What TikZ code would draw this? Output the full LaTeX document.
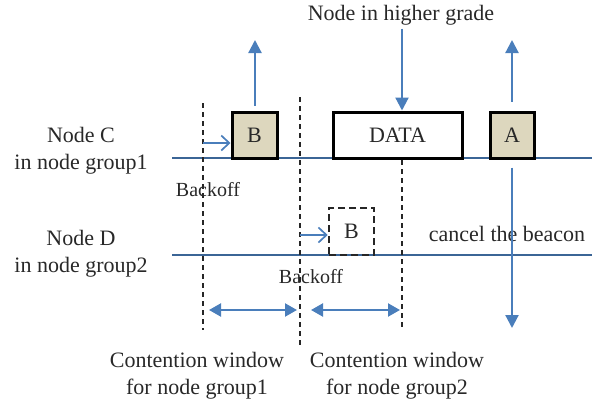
\documentclass[tikz,border=0pt]{standalone}
\usepackage{fontspec}
\setmainfont{Liberation Serif}
\usetikzlibrary{positioning, arrows.meta, calc}

\definecolor{lineblue}{RGB}{74,126,187}
\definecolor{slotfill}{RGB}{221,215,190}
\definecolor{txtgray}{RGB}{40,40,40}

\begin{document}
\begin{tikzpicture}[x=1pt, y=-1pt,
    font=\fontsize{22}{27}\selectfont, text=txtgray,
    timeline/.style={draw=lineblue!80!black, line width=1.5pt},
    slot/.style={draw=black, line width=3pt, minimum height=46pt, inner sep=0pt},
    border/.style={draw=black!85, line width=2.2pt, dash pattern=on 5pt off 4pt},
    sig/.style={draw=lineblue, line width=2.2pt, -{Triangle[length=13pt, width=13pt]}},
    push/.style={draw=lineblue, line width=1.7pt, -{Straight Barb[length=8pt, width=15pt]}},
    window/.style={draw=lineblue, line width=2.2pt, {Triangle[length=12pt, width=13pt]}-{Triangle[length=12pt, width=13pt]}}]

    \useasboundingbox (0,0) rectangle (595,402);

    % Casove osy
    \def\yC{158}
    \def\yD{255}
    \coordinate (cS) at (172,\yC);
    \coordinate (cE) at (592,\yC);
    \coordinate (dS) at (172,\yD);
    \coordinate (dE) at (592,\yD);
    \draw[timeline] (cS) -- (cE);
    \draw[timeline] (dS) -- (dE);

    % Popisky uzlu
    \node[align=center] (nodeC) at (81,151) {Node C\\in node group1};
    \node[align=center] (nodeD) at (81,254) {Node D\\in node group2};

    % Hranice oken (carkovane)
    \coordinate (w1top) at (203,103);
    \coordinate (w1bot) at (203,330);
    \coordinate (w2top) at (300,97);
    \coordinate (w2bot) at (300,345);
    \coordinate (w3top) at (402,160);
    \coordinate (w3bot) at (402,330);
    \draw[border] (w1top) -- (w1bot);
    \draw[border] (w2top) -- (w2bot);
    \draw[border] (w3top) -- (w3bot);

    % Texty
    \node (higher) at (401,15) {Node in higher grade};
    \node (cancel) at (507,234) {cancel the beacon};
    \node[font=\fontsize{20}{24}\selectfont] (back1) at (208,190) {Backoff};
    \node[font=\fontsize{20}{24}\selectfont] (back2) at (311,277) {Backoff};
    \node[align=center] (cw1) at (197,376) {Contention window\\for node group1};
    \node[align=center] (cw2) at (397,376) {Contention window\\for node group2};

    % Ramce na ose C
    \node[slot, fill=slotfill, minimum width=45pt] (beaconB) at (254.5,135) {B};
    \node[slot, fill=white, minimum width=129pt] (data) at (397.5,135) {DATA};
    \node[slot, fill=slotfill, minimum width=44pt] (beaconA) at (512,135) {A};

    % Zruseny ramec na ose D
    \node[slot, border, line width=2.6pt, dash pattern=on 7pt off 4pt, minimum width=45pt, minimum height=47pt] (cancelB) at (351.5,231.5) {B};

    % Signaly
    \coordinate (bUp) at (255,40);
    \coordinate (aUp) at (512,40);
    \coordinate (aDown) at (512,328);
    \draw[sig] ([yshift=5pt]beaconB.north -| bUp) -- (bUp);
    \draw[sig] (higher.south -| w3top) -- (data.north -| w3top);
    \draw[sig] ([yshift=9pt]beaconA.north) -- (aUp);
    \draw[sig] ([yshift=-8pt]beaconA.south) -- (aDown);

    % Backoff sipky
    \draw[push] (w1top |- 0,143) -- (beaconB.west |- 0,143);
    \draw[push] (w2top |- 0,235) -- (cancelB.west |- 0,235);

    % Souteziva okna
    \coordinate (win1a) at (209,310);
    \coordinate (win1b) at (297,310);
    \coordinate (win2a) at (311,310);
    \coordinate (win2b) at (400,310);
    \draw[window] (win1a) -- (win1b);
    \draw[window] (win2a) -- (win2b);

\end{tikzpicture}
\end{document}
